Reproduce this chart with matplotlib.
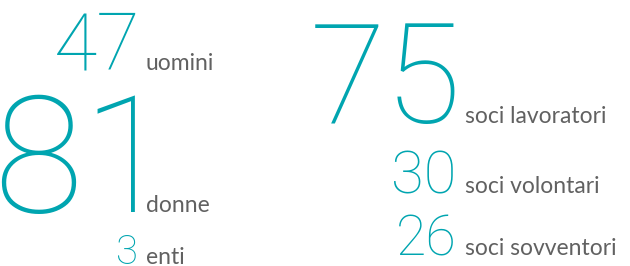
import matplotlib
matplotlib.use("Agg")
import matplotlib.pyplot as plt
from matplotlib.font_manager import FontProperties
from matplotlib.textpath import TextPath

# left block: genere
gender_values = [47, 81, 3]
gender_labels = ["uomini", "donne", "enti"]
# right block: tipologia soci
member_values = [75, 30, 26]
member_labels = ["soci lavoratori", "soci volontari", "soci sovventori"]

teal = "#00A5B0"
grey = "#616161"
DPI = 100
num_fp = dict(family="Roboto", weight="light")
lab_fp = dict(family="Lato", weight="normal")
LAB_SIZE = 16.5

fig = plt.figure(figsize=(6.3, 2.66), dpi=DPI)
ax = fig.add_axes([0, 0, 1, 1])
ax.set_xlim(0, 630)
ax.set_ylim(266, 0)
ax.axis("off")


def ink_x(s, size, props):
    # horizontal ink extent of a string, in pixels, relative to pen origin
    tp = TextPath((0, 0), s, size=size * DPI / 72, prop=FontProperties(**props))
    ext = tp.get_extents()
    return ext.x0, ext.x1


# (ink right edge of number, baseline, number size pt)
left_pos = [(136, 70, 57), (136, 212, 118), (136, 264, 29)]
right_pos = [(455, 123, 100), (453, 193, 43), (454, 255, 40)]
left_label_x = 147
right_label_x = 466


def draw_block(values, labels, pos, label_x):
    for v, lab, (x, y, s) in zip(values, labels, pos):
        _, x1 = ink_x(str(v), s, num_fp)
        ax.text(x - x1, y, str(v), ha="left", va="baseline", fontsize=s,
                color=teal, **num_fp)
        x0, _ = ink_x(lab, LAB_SIZE, lab_fp)
        ax.text(label_x - x0, y, lab, ha="left", va="baseline",
                fontsize=LAB_SIZE, color=grey, **lab_fp)


draw_block(gender_values, gender_labels, left_pos, left_label_x)
draw_block(member_values, member_labels, right_pos, right_label_x)

fig.savefig("out.png", dpi=DPI)
